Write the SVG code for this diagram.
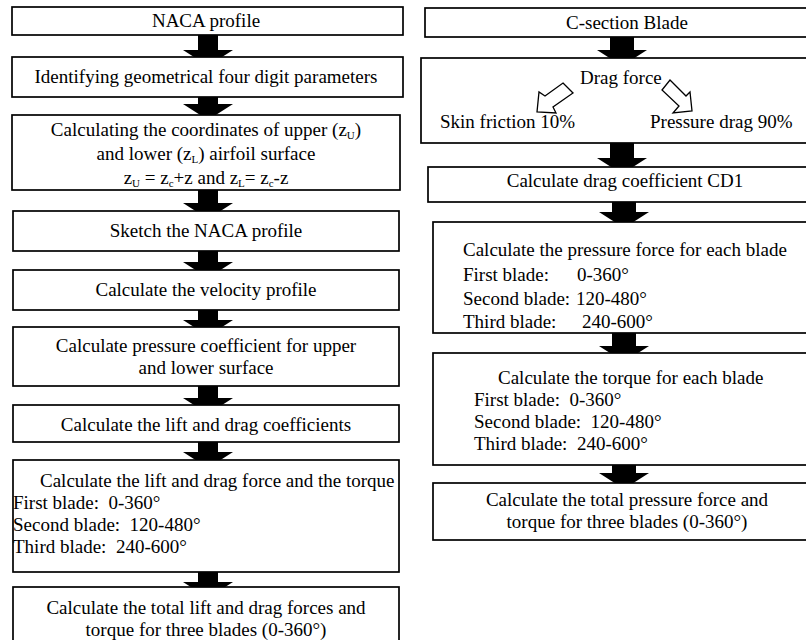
<svg xmlns="http://www.w3.org/2000/svg" width="806" height="640" viewBox="0 0 806 640">
<defs>
<style>
.box{fill:#fff;stroke:#000;stroke-width:1.7}
.blk{fill:#000;stroke:none}
.hol{fill:#fff;stroke:#000;stroke-width:1.3;stroke-linejoin:miter}
text{font-family:"Liberation Serif","Times New Roman",serif;font-size:19px;fill:#000}
.c{text-anchor:middle}
.sub{font-size:11px}
</style>
</defs>
<rect width="806" height="640" fill="#fff"/>
<g id="connectors">
<polygon class="blk" points="198,33 218,33 218,50 233,50 208,66 183,50 198,50"/>
<polygon class="blk" points="198,95 218,95 218,104 233,104 208,120 183,104 198,104"/>
<polygon class="blk" points="198,188 218,188 218,203 233,203 208,219 183,203 198,203"/>
<polygon class="blk" points="198,249 218,249 218,262 233,262 208,278 183,262 198,262"/>
<polygon class="blk" points="198,308 218,308 218,320 233,320 208,336 183,320 198,320"/>
<polygon class="blk" points="198,384 218,384 218,398 233,398 208,414 183,398 198,398"/>
<polygon class="blk" points="198,440 218,440 218,452 233,452 208,468 183,452 198,452"/>
<polygon class="blk" points="198,570 218,570 218,582 233,582 208,598 183,582 198,582"/>
<polygon class="blk" points="610,35 634,35 634,50 647,50 622,66 597,50 610,50"/>
<polygon class="blk" points="610,141 634,141 634,158 647,158 622,174 597,158 610,158"/>
<polygon class="blk" points="612,200 636,200 636,212 649,212 624,228 599,212 612,212"/>
<polygon class="blk" points="612,331 636,331 636,346 649,346 624,362 599,346 612,346"/>
<polygon class="blk" points="612,463 636,463 636,473 649,473 624,489 599,473 612,473"/>
</g>
<g font-family="Liberation Serif, Times New Roman, serif" font-size="19">
<g id="n1"><rect class="box" x="12" y="7" width="391" height="28"/><text class="c" x="206" y="27">NACA profile</text></g>
<g id="n2"><rect class="box" x="12" y="57" width="391" height="40"/><text class="c" x="206" y="83">Identifying geometrical four digit parameters</text></g>
<g id="n3"><rect class="box" x="12" y="115" width="388" height="75"/>
<text class="c" x="206" y="136">Calculating the coordinates of upper (z<tspan class="sub" dy="3">U</tspan><tspan dy="-3">)</tspan></text>
<text class="c" x="206" y="160">and lower (z<tspan class="sub" dy="3">L</tspan><tspan dy="-3">) airfoil surface</tspan></text>
<text class="c" x="206" y="184">z<tspan class="sub" dy="3">U</tspan><tspan dy="-3"> = z</tspan><tspan class="sub" dy="3">c</tspan><tspan dy="-3">+z and z</tspan><tspan class="sub" dy="3">L</tspan><tspan dy="-3">= z</tspan><tspan class="sub" dy="3">c</tspan><tspan dy="-3">-z</tspan></text>
</g>
<g id="n4"><rect class="box" x="13" y="211" width="386" height="40"/><text class="c" x="206" y="237">Sketch the NACA profile</text></g>
<g id="n5"><rect class="box" x="13" y="270" width="386" height="40"/><text class="c" x="206" y="296">Calculate the velocity profile</text></g>
<g id="n6"><rect class="box" x="13" y="327" width="386" height="59"/><text class="c" x="206" y="352">Calculate pressure coefficient for upper</text><text class="c" x="206" y="374">and lower surface</text></g>
<g id="n7"><rect class="box" x="13" y="405" width="386" height="37"/><text class="c" x="206" y="431">Calculate the lift and drag coefficients</text></g>
<g id="n8"><rect class="box" x="13" y="460" width="386" height="112"/>
<text x="40" y="487">Calculate the lift and drag force and the torque</text>
<text x="13" y="509" xml:space="preserve">First blade:  0-360°</text>
<text x="13" y="531" xml:space="preserve">Second blade:  120-480°</text>
<text x="13" y="553" xml:space="preserve">Third blade:  240-600°</text>
</g>
<g id="n9"><rect class="box" x="13" y="587" width="386" height="60"/><text class="c" x="206" y="614">Calculate the total lift and drag forces and</text><text class="c" x="206" y="636">torque for three blades (0-360°)</text></g>
<g id="r1"><rect class="box" x="425" y="8" width="400" height="29"/><text class="c" x="627" y="29">C-section Blade</text></g>
<g id="r2"><rect class="box" x="421" y="58" width="404" height="85"/>
<text x="580" y="84">Drag force</text>
<polygon class="hol" points="563,83 573,93 553,107 556,113 537,112 539,92 545,96"/>
<polygon class="hol" points="670,80 686,96 690,92 692,111 673,113 679,106 662,90"/>
<text x="440" y="128">Skin friction 10%</text>
<text x="650" y="128">Pressure drag 90%</text>
</g>
<g id="r3"><rect class="box" x="428" y="167" width="400" height="35"/><text class="c" x="625" y="187">Calculate drag coefficient CD1</text></g>
<g id="r4"><rect class="box" x="433" y="222" width="400" height="111"/>
<text x="463" y="256">Calculate the pressure force for each blade</text>
<text x="463" y="281">First blade:<tspan x="577">0-360°</tspan></text>
<text x="463" y="305">Second blade:<tspan x="576">120-480°</tspan></text>
<text x="463" y="328">Third blade:<tspan x="582">240-600°</tspan></text>
</g>
<g id="r5"><rect class="box" x="433" y="353" width="400" height="112"/>
<text x="498" y="384">Calculate the torque for each blade</text>
<text x="474" y="406" xml:space="preserve">First blade:  0-360°</text>
<text x="474" y="428" xml:space="preserve">Second blade:  120-480°</text>
<text x="474" y="450" xml:space="preserve">Third blade:  240-600°</text>
</g>
<g id="r6"><rect class="box" x="433" y="483" width="400" height="57"/><text class="c" x="627" y="506">Calculate the total pressure force and</text><text class="c" x="627" y="528">torque for three blades (0-360°)</text></g>
</g>
</svg>
